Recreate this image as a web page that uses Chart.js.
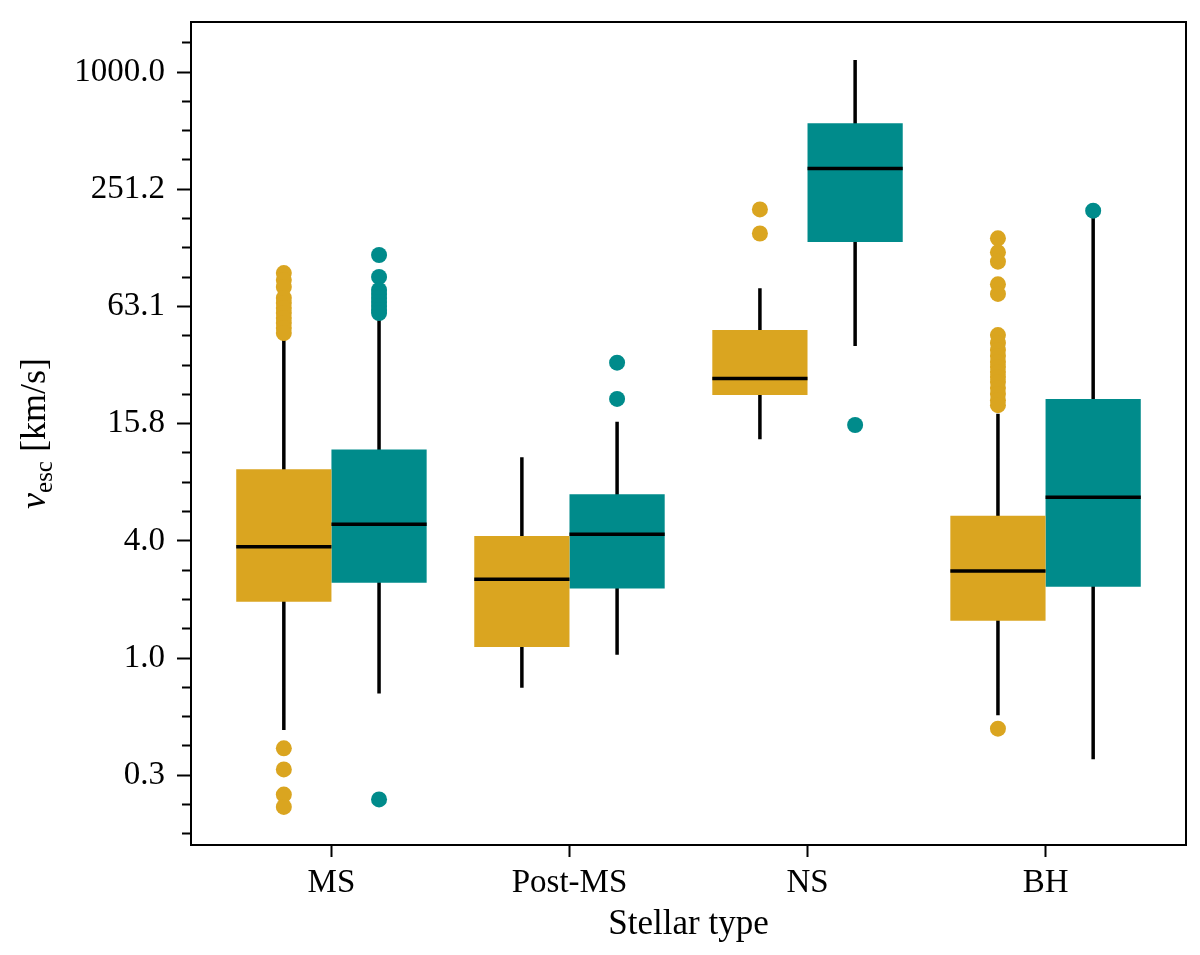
<!DOCTYPE html>
<html>
<head>
<meta charset="utf-8">
<script src="https://cdn.jsdelivr.net/npm/chart.js@4.4.1/dist/chart.umd.min.js"></script>
<style>
  body { margin: 0; background: #fff; }
  canvas { display: block; }
</style>
</head>
<body>
<canvas id="myChart" width="1200" height="955"></canvas>
<script>
'use strict';
const categories = ['MS', 'Post-MS', 'NS', 'BH'];

// gold boxes (left of each pair), km/s
const goldLow = [0.428, 0.705, 13.2, 0.509];
const goldQ1 = [1.94, 1.14, 22.2, 1.55];
const goldMed = [3.71, 2.53, 27.0, 2.79];
const goldQ3 = [9.25, 4.21, 47.8, 5.35];
const goldHigh = [44.0, 10.65, 78.1, 17.8];
const goldOutliers = [
  [93.5, 86.1, 79.3, 69.7, 65.7, 61.9, 58.4, 55.0, 51.9, 48.9, 46.1, 0.345, 0.269, 0.200, 0.173],
  [],
  [198, 149],
  [140.8, 119.4, 106.9, 81.9, 73.1, 45.0, 41.0, 37.8, 35.2, 32.8, 30.9, 29.1, 27.5, 25.9, 24.1, 22.5, 20.9, 19.7, 0.435]
];

// teal boxes (right of each pair), km/s
const tealLow = [0.659, 1.04, 39.6, 0.303];
const tealQ1 = [2.43, 2.27, 135, 2.32];
const tealMed = [4.84, 4.30, 321, 6.65];
const tealQ3 = [11.7, 6.89, 546, 21.2];
const tealHigh = [55.0, 16.2, 1152, 185];
const tealOutliers = [
  [115.7, 89.3, 76.6, 73.1, 69.7, 66.5, 63.4, 60.5, 58.4, 0.189],
  [32.5, 21.2],
  [15.6],
  [195]
];

const yTickValues = [0.2512, 1.0, 3.981, 15.85, 63.10, 251.2, 1000.0];
const yTickLabels = ['0.3', '1.0', '4.0', '15.8', '63.1', '251.2', '1000.0'];

const gold = '#DAA520';
const teal = '#008B8B';
const fontFamily = "'Liberation Serif', serif";
const fontSize = 33;

Chart.defaults.font.family = fontFamily;
Chart.defaults.color = '#000';

function boxData(q1, q3) {
  return q1.map((v, i) => ({x: i, y: [v, q3[i]]}));
}
function whiskerData(lo, hi, off) {
  const pts = [];
  lo.forEach((v, i) => {
    pts.push({x: i + off, y: v}, {x: i + off, y: hi[i]}, {x: i + off, y: null});
  });
  return pts;
}
function medianData(med, a, b) {
  const pts = [];
  med.forEach((m, i) => {
    pts.push({x: i + a, y: m}, {x: i + b, y: m}, {x: i + b, y: null});
  });
  return pts;
}
function outlierData(list, off) {
  const pts = [];
  list.forEach((vals, i) => {
    vals.forEach(v => pts.push({x: i + off, y: v}));
  });
  return pts;
}

// major ticks plus 3 minor ticks between each pair (even in log space)
function buildYTicks() {
  const ticks = [];
  const step = Math.log10(yTickValues[1] / yTickValues[0]) / 4;
  const first = Math.log10(yTickValues[0]);
  const last = Math.log10(yTickValues[yTickValues.length - 1]);
  for (let k = -2; k <= (last - first) / step + 1.01; k++) {
    const lv = first + k * step;
    const majorIdx = k % 4 === 0 ? k / 4 : -1;
    if (majorIdx >= 0 && majorIdx < yTickValues.length) {
      ticks.push({value: yTickValues[majorIdx], lab: yTickLabels[majorIdx], minor: false});
    } else {
      ticks.push({value: Math.pow(10, lv), lab: '', minor: true});
    }
  }
  return ticks;
}

const framePlugin = {
  id: 'frame',
  afterDraw(chart) {
    const {ctx, chartArea} = chart;
    ctx.save();
    ctx.strokeStyle = '#000';
    ctx.lineWidth = 2;
    ctx.strokeRect(chartArea.left, chartArea.top, chartArea.right - chartArea.left, chartArea.bottom - chartArea.top);
    ctx.restore();
  }
};

// y title: v_esc [km/s] with a subscript
const yTitlePlugin = {
  id: 'ytitle',
  afterDraw(chart) {
    const {ctx, chartArea} = chart;
    const cy = (chartArea.top + chartArea.bottom) / 2;
    const size = 36;
    const parts = [
      {t: 'v', font: 'italic ' + size + 'px ' + fontFamily, dy: 0},
      {t: 'esc', font: Math.round(size * 0.7) + 'px ' + fontFamily, dy: 7},
      {t: ' [km/s]', font: size + 'px ' + fontFamily, dy: 0}
    ];
    ctx.save();
    let total = 0;
    parts.forEach(p => { ctx.font = p.font; p.w = ctx.measureText(p.t).width; total += p.w; });
    ctx.translate(45, cy);
    ctx.rotate(-Math.PI / 2);
    ctx.fillStyle = '#000';
    ctx.textBaseline = 'alphabetic';
    let x = -total / 2;
    parts.forEach(p => {
      ctx.font = p.font;
      ctx.fillText(p.t, x, p.dy);
      x += p.w;
    });
    ctx.restore();
  }
};

const ctx = document.getElementById('myChart').getContext('2d');
const chart = new Chart(ctx, {
  type: 'bar',
  data: {
    datasets: [
      {type: 'scatter', data: outlierData(goldOutliers, -0.2), backgroundColor: gold, borderWidth: 0, pointRadius: 8, order: 0},
      {type: 'scatter', data: outlierData(tealOutliers, 0.2), backgroundColor: teal, borderWidth: 0, pointRadius: 8, order: 0},
      {type: 'line', data: medianData(goldMed, -0.4, 0), borderColor: '#000', borderWidth: 3.5, pointRadius: 0, borderCapStyle: 'butt', order: 1},
      {type: 'line', data: medianData(tealMed, 0, 0.4), borderColor: '#000', borderWidth: 3.5, pointRadius: 0, borderCapStyle: 'butt', order: 1},
      {type: 'bar', data: boxData(goldQ1, goldQ3), backgroundColor: gold, borderWidth: 0, categoryPercentage: 0.8, barPercentage: 1.0, order: 2},
      {type: 'bar', data: boxData(tealQ1, tealQ3), backgroundColor: teal, borderWidth: 0, categoryPercentage: 0.8, barPercentage: 1.0, order: 2},
      {type: 'line', data: whiskerData(goldLow, goldHigh, -0.2), borderColor: '#000', borderWidth: 3.5, pointRadius: 0, borderCapStyle: 'butt', order: 3},
      {type: 'line', data: whiskerData(tealLow, tealHigh, 0.2), borderColor: '#000', borderWidth: 3.5, pointRadius: 0, borderCapStyle: 'butt', order: 3}
    ]
  },
  options: {
    responsive: false,
    animation: false,
    devicePixelRatio: 1,
    layout: {padding: {left: 0, right: 14, top: 22, bottom: 0}},
    plugins: {legend: {display: false}, tooltip: {enabled: false}},
    scales: {
      x: {
        type: 'linear',
        offset: false,
        min: -0.59,
        max: 3.59,
        afterBuildTicks: (scale) => { scale.ticks = categories.map((c, i) => ({value: i})); },
        afterFit: (scale) => { scale.height = 110; scale.paddingLeft = 0; scale.paddingRight = 0; },
        ticks: {
          callback: (value) => categories[value],
          font: {size: fontSize},
          padding: 7,
          maxRotation: 0,
          autoSkip: false
        },
        grid: {offset: false, drawOnChartArea: false, tickLength: 12, tickWidth: 2, tickColor: '#000'},
        border: {display: true, color: '#000', width: 2},
        title: {display: true, text: 'Stellar type', font: {size: 35}, padding: {top: 0, bottom: 9}}
      },
      y: {
        type: 'logarithmic',
        min: 0.1104,
        max: 1803,
        afterBuildTicks: (scale) => { scale.ticks = buildYTicks(); },
        afterFit: (scale) => { scale.width = 191; scale.paddingTop = 0; scale.paddingBottom = 0; },
        ticks: {
          callback: (value, index, ticks) => ticks[index].lab,
          font: {size: fontSize},
          padding: 12,
          autoSkip: false,
          major: {enabled: false}
        },
        grid: {
          drawOnChartArea: false,
          tickLength: 14,
          tickWidth: 2,
          tickColor: '#000',
          tickBorderDash: (c) => (c.tick && c.tick.minor ? [0, 5, 9, 100] : [])
        },
        border: {display: true, color: '#000', width: 2}
      }
    }
  },
  plugins: [framePlugin, yTitlePlugin]
});
</script>
</body>
</html>
